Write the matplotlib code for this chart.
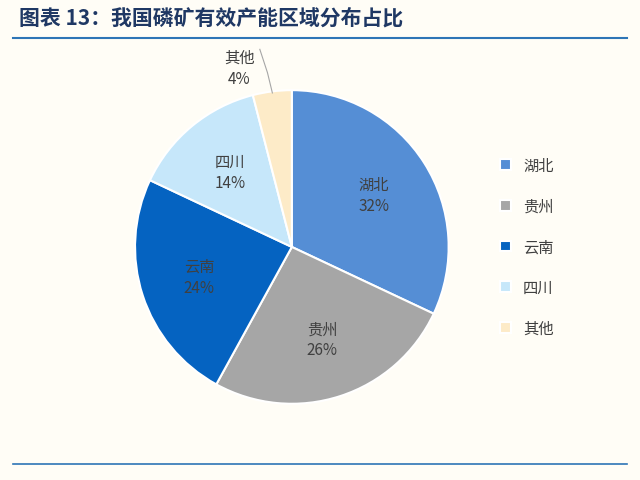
import matplotlib
matplotlib.use("Agg")
import matplotlib.pyplot as plt
import numpy as np

plt.rcParams['font.family'] = ['Noto Sans CJK SC', 'DejaVu Sans']

labels = ['湖北', '贵州', '云南', '四川', '其他']
values = [32, 26, 24, 14, 4]
colors = ['#558ED5', '#A6A6A6', '#0563C1', '#C6E7FA', '#FDEBC8']

fig = plt.figure(figsize=(6.4, 4.81), dpi=100, facecolor='#FFFDF6')
fig.text(0.03, 0.962, '图表 13：我国磷矿有效产能区域分布占比', fontsize=15, fontweight='bold',
         style='italic', color='#1F3864', va='center')
fig.add_artist(plt.Line2D([0.02, 0.98], [0.918, 0.918], color='#2E75B6', lw=1.5))
fig.add_artist(plt.Line2D([0.02, 0.98], [0.033, 0.033], color='#2E75B6', lw=1.2))

ax = fig.add_axes([0.211, 0.158, 0.49, 0.653])
ax.set_facecolor('none')
wedges, _ = ax.pie(values, colors=colors, startangle=90, counterclock=False,
                   wedgeprops=dict(edgecolor='white', linewidth=1.5))
ax.set_aspect('equal')

total = sum(values)
cum = 0
for lab, v, w in zip(labels, values, wedges):
    mid = 90 - (cum + v / 2) / total * 360
    cum += v
    th = np.deg2rad(mid)
    if lab == '其他':
        x, y = 1.23 * np.cos(th) - 0.18, 1.23 * np.sin(th) - 0.08
        ax.plot([0.99 * np.cos(th), 1.08 * np.cos(th) - 0.02, x + 0.13],
                [0.99 * np.sin(th), 1.12 * np.sin(th) + 0.0, y + 0.12],
                color='#A6A6A6', lw=0.8, clip_on=False)
        ax.text(x, y, f'{lab}\n{v}%', ha='center', va='center', fontsize=11,
                color='#404040', linespacing=1.3)
    else:
        r = 0.62
        ax.text(r * np.cos(th), r * np.sin(th), f'{lab}\n{v}%', ha='center', va='center',
                fontsize=11, color='#404040', linespacing=1.3)
ax.set_xlim(-1.0, 1.0)
ax.set_ylim(-1.0, 1.0)

ax.legend(wedges, labels, loc='center left', bbox_to_anchor=(1.12, 0.5), frameon=False,
          fontsize=11, handlelength=0.7, handleheight=0.7, labelspacing=1.55,
          labelcolor='#404040')
fig.savefig('out.png', dpi=100, facecolor=fig.get_facecolor())
